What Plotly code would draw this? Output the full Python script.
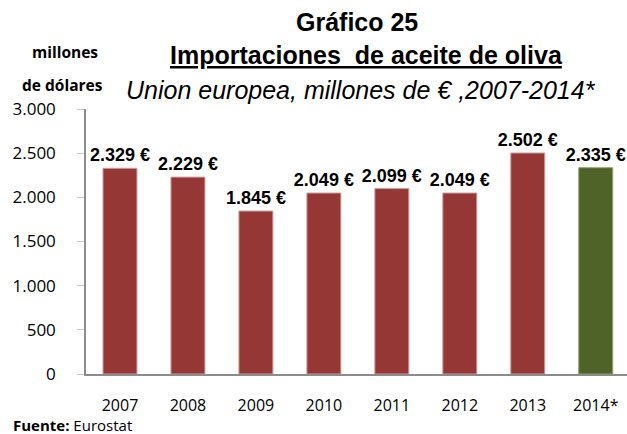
import plotly.graph_objects as go

years = ["2007", "2008", "2009", "2010", "2011", "2012", "2013", "2014*"]
values = [2329, 2229, 1845, 2049, 2099, 2049, 2502, 2335]
labels = ["2.329 €", "2.229 €", "1.845 €", "2.049 €", "2.099 €", "2.049 €", "2.502 €", "2.335 €"]
colors = ["#953735"] * 7 + ["#4F6228"]
tick_vals = [0, 500, 1000, 1500, 2000, 2500, 3000]
tick_text = ["0", "500", "1.000", "1.500", "2.000", "2.500", "3.000"]

W, H = 627, 434
PL, PR, PT, PB = 86, 627, 109, 374

fig = go.Figure()
fig.add_trace(go.Bar(
    x=years, y=values,
    marker=dict(color=colors, line=dict(width=1, color=["#c9a0a0"] * 7 + ["#8fa070"])),
    width=0.5, text=labels, textposition="outside", cliponaxis=False,
    constraintext="none",
    textfont=dict(family="Liberation Sans, Arial", size=18, color="black", weight="bold"),
))

fig.update_layout(
    width=W, height=H,
    margin=dict(l=PL, r=W - PR, t=PT, b=H - PB, pad=0),
    paper_bgcolor="white", plot_bgcolor="white",
    showlegend=False,
    font=dict(family="Open Sans", color="black"),
)
fig.update_xaxes(
    type="category", range=[-0.5, 7.46], showline=True, linecolor="#8c8c8c", linewidth=1.5,
    ticks="", tickfont=dict(family="Open Sans", size=16, color="black"),
    showgrid=False, ticklabelstandoff=16,
)
fig.update_yaxes(
    range=[0, 3000], tickvals=tick_vals, ticktext=tick_text, showline=True,
    linecolor="#8c8c8c", linewidth=1.5, ticks="outside", ticklen=7, tickcolor="#c8c8c8",
    tickfont=dict(family="Open Sans", size=17, color="black"), showgrid=False, zeroline=False,
    ticklabelstandoff=18,
)

def add_abs(text, x, y, size, family, anchor="center"):
    fx = (x - PL) / (PR - PL)
    fy = (PB - y) / (PB - PT)
    fig.add_annotation(text=text, x=fx, y=fy, xref="paper", yref="paper",
                       xanchor=anchor, yanchor="middle", showarrow=False,
                       font=dict(family=family, size=size, color="black"))

add_abs("<b>Gráfico 25</b>", 357, 22, 25, "Liberation Sans, Arial")
add_abs("<b><u>Importaciones  de aceite de oliva</u></b>", 366, 55, 25, "Liberation Sans, Arial")
add_abs("<i>Union europea, millones de € ,2007-2014*</i>", 361, 90, 25, "Liberation Sans, Arial")
add_abs("<b>millones</b>", 65, 52, 15.5, "Open Sans")
add_abs("<b>de dólares</b>", 62, 85, 15.5, "Open Sans")
add_abs("<b>Fuente:</b> Eurostat", 11, 425, 15, "Open Sans", anchor="left")

fig.write_html("out.html", config={"displayModeBar": False},
               post_script="document.body.style.margin='0px';document.body.style.overflow='hidden';")
